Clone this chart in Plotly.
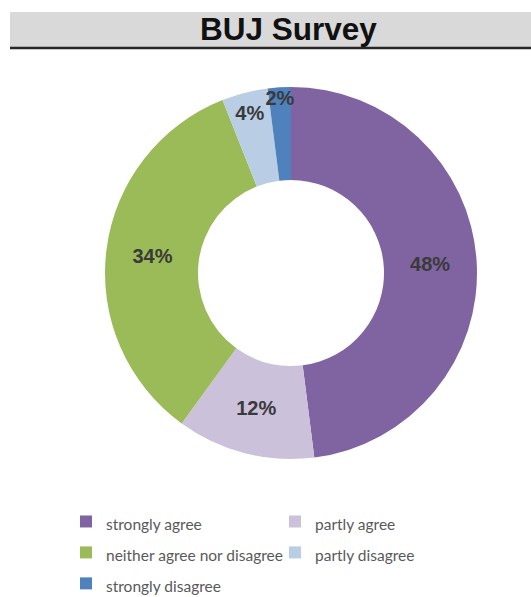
import plotly.graph_objects as go

categories = ["strongly agree", "partly agree", "neither agree nor disagree",
              "partly disagree", "strongly disagree"]
shares = [48, 12, 34, 4, 2]
colors = ["#8064A2", "#CCC1DA", "#9BBB59", "#B9CDE5", "#4F81BD"]

W, H = 531, 597

# legend rows are spaced by the legend font size; the visible label text is smaller
legend_labels = ['<span style="font-size:15.5px">%s</span>' % c for c in categories]

fig = go.Figure(go.Pie(
    labels=legend_labels,
    values=shares,
    marker=dict(colors=colors, line=dict(width=0)),
    hole=0.5,
    sort=False,
    direction="clockwise",
    rotation=0,
    texttemplate="%{percent:.0%}",
    textposition="inside",
    insidetextorientation="horizontal",
    textfont=dict(family="Arial", size=20, color="#3A3A3A", weight="bold"),
    hoverinfo="percent",
    domain=dict(x=[105 / W, 477 / W], y=[1 - 460 / H, 1 - 86 / H]),
))

# title band and rule beneath it
fig.add_shape(type="rect", xref="paper", yref="paper",
              x0=10 / W, x1=1, y0=1 - 47 / H, y1=1 - 12 / H,
              fillcolor="#D9D9D9", line=dict(width=0), layer="below")
fig.add_shape(type="line", xref="paper", yref="paper",
              x0=10 / W, x1=1, y0=1 - 48 / H, y1=1 - 48 / H,
              line=dict(color="#262626", width=2.5))
fig.add_annotation(text="<b>BUJ Survey</b>", xref="paper", yref="paper",
                   x=288 / W, y=1 - 29 / H, showarrow=False,
                   xanchor="center", yanchor="middle",
                   font=dict(family="Arial", size=31.5, color="#111111"))

fig.update_layout(
    width=W, height=H,
    margin=dict(l=0, r=0, t=0, b=0, autoexpand=False),
    paper_bgcolor="white",
    uniformtext=dict(minsize=20, mode="show"),
    showlegend=True,
    legend=dict(orientation="h", traceorder="normal",
                x=66 / W, y=1 - 501 / H,
                xanchor="left", yanchor="top",
                entrywidth=164, entrywidthmode="pixels",
                font=dict(family="Lato", size=21.5, color="#595959"),
                itemwidth=30),
)

fig.write_html("out.html")
